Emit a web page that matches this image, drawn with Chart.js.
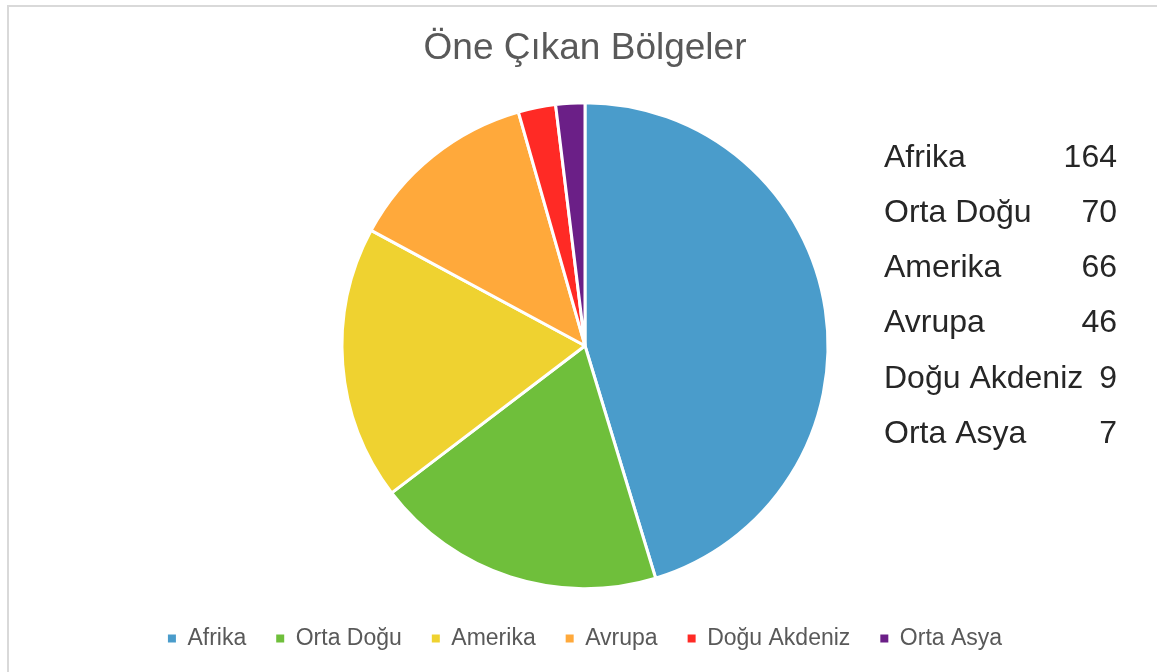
<!DOCTYPE html>
<html lang="tr">
<head>
<meta charset="utf-8">
<title>Öne Çıkan Bölgeler</title>
<script src="https://cdn.jsdelivr.net/npm/chart.js@4/dist/chart.umd.min.js"></script>
<style>
  html, body { margin: 0; padding: 0; background: #fff; overflow: hidden; }
  #wrap { position: relative; width: 1157px; height: 672px; }
  #frame {
    position: absolute; left: 7px; top: 5px; width: 1200px; height: 720px;
    border: 2px solid #d9d9d9; box-sizing: border-box; pointer-events: none;
  }
  canvas { position: absolute; left: 0; top: 0; }
</style>
</head>
<body>
<div id="wrap">
  <canvas id="myChart" width="1157" height="672"></canvas>
  <div id="frame"></div>
</div>
<script>
// Datos del gráfico
const bolgeler = ['Afrika', 'Orta Doğu', 'Amerika', 'Avrupa', 'Doğu Akdeniz', 'Orta Asya'];
const degerler = [164, 70, 66, 46, 9, 7];
const renkler = ['#4a9ccb', '#6fbf3b', '#efd230', '#ffa93b', '#ff2a25', '#6b1f87'];

const fuente = "'Liberation Sans', Arial, sans-serif";

// Tabla de valores a la derecha del pastel
const tablaDerecha = {
    id: 'tablaDerecha',
    afterDraw(chart) {
        const ctx = chart.ctx;
        ctx.save();
        ctx.font = '32px ' + fuente;
        ctx.fillStyle = '#262626';
        ctx.textBaseline = 'middle';
        bolgeler.forEach((b, i) => {
            const y = 158 + i * 55.2;
            ctx.textAlign = 'left';
            ctx.fillText(b, 884, y);
            ctx.textAlign = 'right';
            ctx.fillText(String(degerler[i]), 1117, y);
        });
        ctx.restore();
    }
};

const ctx = document.getElementById('myChart').getContext('2d');

// Leyenda: cuadros sin borde blanco
const etiquetasBase = Chart.overrides.pie.plugins.legend.labels.generateLabels;

const myChart = new Chart(ctx, {
    type: 'pie',
    data: {
        labels: bolgeler,
        datasets: [{
            data: degerler,
            backgroundColor: renkler,
            borderColor: '#ffffff',
            borderWidth: 3,
            radius: 243
        }]
    },
    options: {
        responsive: false,
        animation: false,
        layout: {
            padding: { left: 13, right: 0, top: 0, bottom: 12 }
        },
        plugins: {
            title: {
                display: true,
                text: 'Öne Çıkan Bölgeler',
                color: '#595959',
                font: { family: fuente, size: 37, weight: 'normal' },
                padding: { top: 27, bottom: 23 }
            },
            legend: {
                position: 'bottom',
                labels: {
                    color: '#595959',
                    font: { family: fuente, size: 23 },
                    boxWidth: 8,
                    boxHeight: 8,
                    padding: 30,
                    generateLabels(chart) {
                        return etiquetasBase(chart).map(l => {
                            l.lineWidth = 0;
                            l.strokeStyle = l.fillStyle;
                            return l;
                        });
                    }
                }
            },
            tooltip: { enabled: false }
        }
    },
    plugins: [tablaDerecha]
});
</script>
</body>
</html>
